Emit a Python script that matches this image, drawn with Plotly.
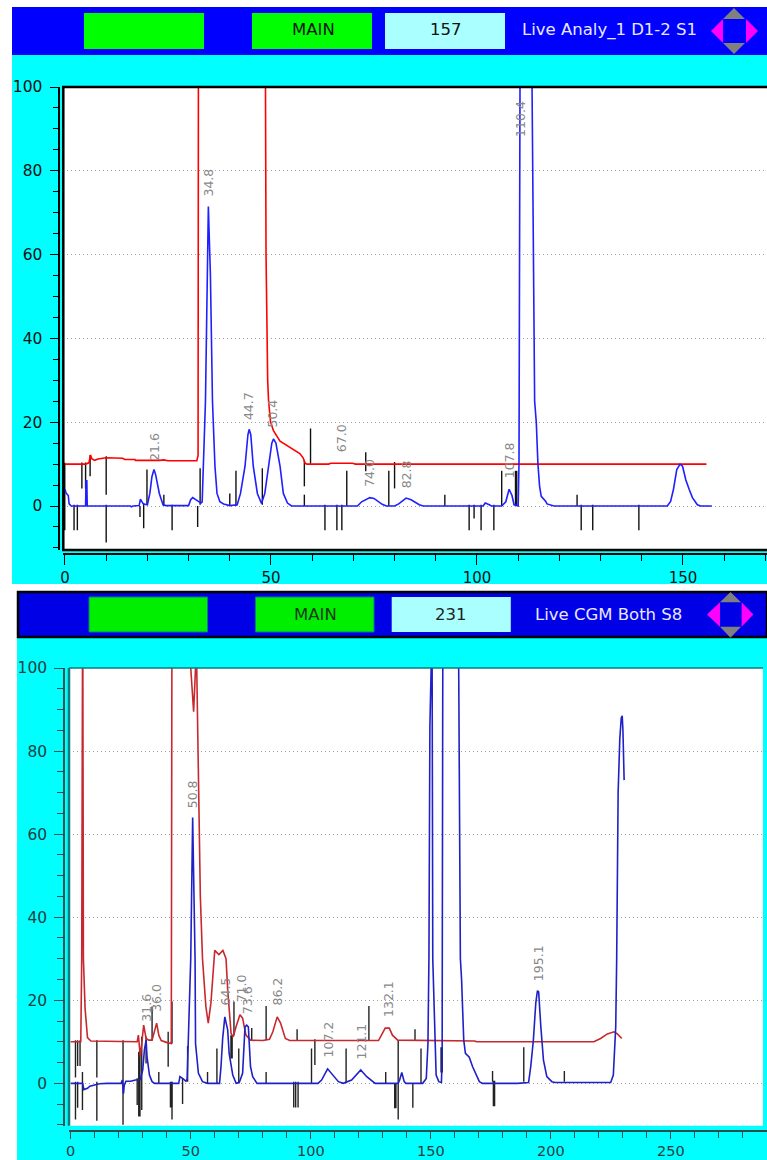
import plotly.graph_objects as go

W, H = 767, 1160

# ---------- upper chart data ----------
top_blue_x = [0,0.3,0.8,1,1.5,5,5.1,5.3,5.4,15.9,16.1,16.5,18,18.3,18.7,19,20,20.6,21.1,21.6,22,22.9,23.8,24.5,30,30.5,31,32,33,33.3,33.6,34.1,34.4,34.8,35.3,35.8,36.4,36.9,37.6,38.5,40,41.8,42.6,43.7,44.4,44.7,45.1,45.7,46.7,47.7,48.5,49.4,50.2,50.6,51.2,52.2,53,54,54.6,55,71,72,74,75,77,78,80,81,82.8,84,86,87,101.5,102,103,103.5,106,107,107.8,108.5,109,110,110.2,110.5,113.2,114,114.4,114.6,114.8,115.2,115.6,116.7,117,118.7,146.2,147,147.7,148.5,149.3,149.9,150.7,151.5,152.3,153.5,154.3,157]
top_blue_y = [4,3,2.5,0.5,0,0,6,6,0,0,-0.2,0,0.1,1.6,1,0.5,0.3,3,7,8.7,7.5,3,0.3,0.1,0.1,1.5,2,1.3,0.7,1,9.5,25,45,71.5,55,25,9.5,3,1,0.5,0.1,0.3,3,9.5,17,18.3,17,9.5,3,0.6,3,9.5,15,16,15,9.5,3,0.7,0.2,0,0,1,2,1.8,0.4,0,0,0.5,1.9,1.5,0.3,0,0,0.7,0.3,0,0,1,4,2.5,0.3,0,10,120,120,25,20,15,10,4.7,2.3,1.1,0.5,0,0,1.1,4,8.7,10,9.5,6.2,4,2,0.3,0,0]
top_red_x = [0,5,5.8,6.2,6.5,7.2,8,10,14,14.5,17,17.1,23,24,25,32,32.3,32.4,48.6,48.8,49.2,49.4,49.9,50.6,52.2,53.8,55.4,57,57.8,58.3,58.7,64,64.5,69.8,70.5,155.7]
top_red_y = [10,10,10.3,12.2,11.3,10.9,11.2,11.5,11.4,11.1,11.1,10.9,10.9,11,10.8,10.8,12,120,120,60,30,25.3,20,18,15.5,14.5,13.5,12.5,11.5,10.2,10,10,10.2,10.2,10,10]
top_bar_x = [2.2,3,4.1,5,6.1,10,10,18.2,19.1,19.9,24,26,32.2,32.8,40,41.5,47.9,58.1,58.1,59.6,63.1,66,67.2,68.4,73,78.6,80,92.2,98.1,99.3,101,104.1,106,124.3,125.3,128.1,139.3]
top_bar_hi = [0.3,0.3,10.4,10.4,12.2,11.9,0.3,0,0.7,8.7,2.7,0.3,0,9,3,8.4,9,11,2.7,18.5,0.3,0.3,0.3,8.4,12.8,8.4,10.5,2.7,0.3,0.3,0.3,0.3,8.4,2.7,0.3,0.3,0.3]
top_bar_lo = [-5.8,-5.8,4.2,4.2,7.1,2.7,-8.7,-2.6,-5.3,0.3,0,-5.8,-5,0.3,0,0,0.3,4.7,0,10.1,-5.8,-5.8,-5.8,0,8.3,0,4.2,0,-5.8,-3,-5.8,-5.8,0,0,-5.8,-5.8,-5.8]
top_thick_x = [-0.2,109.5]
top_thick_hi = [10.3,8.4]
top_thick_lo = [-5.8,0]
top_labels = ["21.6","34.8","44.7","50.4","67.0","74.0","82.8","107.8","110.4"]
top_label_y = [10.5,73.7,20.3,18.4,12.6,4.3,4,6.4,87.8]

# ---------- lower chart data ----------
low_blue_x = [0,5,5.5,7,8,10,12,15,21,21.5,22,22.3,23,25,27,29,30,30.7,31.4,31.8,32.8,33.9,35,45,45.5,47,48,48.5,48.9,49.4,50,50.8,51.3,51.8,52,53.2,54.9,57,62,62.6,63.3,64.2,65.4,66,67.5,68.9,70.2,71.6,72.6,73.3,74,74.9,75.8,77.6,103,104.5,107,108.7,111.5,113.5,117,120.8,123.3,126.8,136.4,137,137.9,138.9,139.6,146.6,148.1,148.8,149.2,149.6,150.2,150.5,150.8,151.2,151.7,152.2,153.3,154.4,154.7,154.8,155,161.5,162.3,162.8,163.2,163.7,164.4,166,167.4,168.8,170.2,171.5,186,190.7,191.6,192.7,193.7,194.4,194.9,195.8,196.9,198.3,200.4,201.8,224.9,226,227,227.4,228,228.7,229.3,229.7,230,230.5]
low_blue_y = [0,0,-1.5,-1.2,-0.7,-0.4,-0.1,0,0,0.8,-2.5,-0.5,0.5,0.5,0.8,0.9,3.2,8,10.4,6.4,2,0.4,0,0,1.6,1,0.5,1,9.6,23,30,64,50,30,9.6,2.4,0.4,0,0,4,10.8,16,12.8,7.2,2,0,0.2,2.4,13.6,14,13.6,4,1.6,0,0,0.8,3.5,2.4,0.4,0,0.8,3.2,1.6,0,0,0.8,2.6,0.4,0,0,1.2,9.6,30,86,110,110,30,21.7,8,2,0.4,0.2,5.6,30,110,110,30,25,16,10.4,7.2,6.3,4,2.4,0.4,0,0,0.2,4,10.4,19.3,22.3,22,13.7,5.6,1.6,0.4,0.2,0.2,2,13.6,30,70,83,88,88.5,85,73]
low_red_x = [0,4.2,4.6,4.8,4.9,5.0,5.3,6,7,8.4,27.7,28.2,29,29.7,30.4,31.4,32.5,33.9,34.9,35.8,36.7,37.7,40.2,41.9,42.2,50,51.2,52,52.5,53,53.5,54,54.9,56.3,57.3,58.4,59.4,60,61.7,63.4,64.7,65.4,66.8,67.7,68.9,70.5,71.6,73,74.9,80,82.8,84.2,86,87.4,89.4,91.2,128.2,131,132.7,134,136.2,168.3,169,217.9,220.7,223.5,226.3,227.7,229.5]
low_red_y = [10,10,30,97,120,120,30,18,11,10.2,10,11.6,6.4,10.4,14,10.8,10.4,10.4,12.4,14.5,11.6,10.3,9.8,9.6,120,100,89.5,100,100,80,60,45,30,18.5,14.5,19.3,27.3,32,31,32,30,22.5,12,11.2,13.7,16.5,15.7,11.6,10.4,10.3,10.6,12.4,16,14.5,10.8,10.3,10.3,13.3,13.3,11.6,10.4,10.2,10,10,10.8,11.9,12.4,11.9,10.8]
low_bar_x = [2,2,2.9,2.9,3.9,4.9,10.9,10.9,21.8,27.7,29.6,31.4,33.9,36.7,40.6,42.2,42.2,46.6,48.7,57,60.9,68,70,75.4,81.4,81.4,92.9,93.7,94.7,94.3,100.3,101.7,114.7,124.2,131.2,136.4,142.5,143.4,145.9,175.7,188.7,205.6]
low_bar_hi = [10.4,0.4,10.4,0.4,10.4,2.7,10.4,0.4,10.4,1.2,11.2,11.2,18.5,2.7,12.4,19.7,0.4,1.2,9,2.7,8.4,19.7,8.4,13.3,18.6,2.7,0.4,0.4,0.4,13,8.4,10.6,8.4,18.6,2.7,10.4,0,13,8.4,3,8.7,3]
low_bar_lo = [1.4,-8.7,4.2,-5.9,4.2,-6.4,1.4,-9,-10,-5.2,-6.4,4.8,10.4,0,4,9.6,-8.7,-5,0.4,0,0,11.6,0,10.4,10.4,0,-5.8,-5.8,-5.8,10.4,0,4.4,0,10.4,0,-8.7,-5.9,10.4,0,0.4,0.4,0.4]
low_thick_x = [28.6,41.8,67,135.2,154.5,176.3]
low_thick_hi = [7.6,0.4,11.6,0,8.7,0.6]
low_thick_lo = [-8,-5.8,6,-6,2.6,-5.5]
low_labels = ["31.6","36.0","50.8","64.5","71.0","73.6","86.2","107.2","121.1","132.1","195.1"]
low_label_y = [14.5,17,65.9,18.4,19.3,16.5,18.4,6,5.6,15.7,24.4]

panel_text = [["MAIN","157","Live Analy_1 D1-2 S1"],["MAIN","231","Live CGM Both S8"]]

def px(v): return v / W
def py(v): return 1 - v / H

shapes, notes = [], []

def rect(x0, y0, x1, y1, fill, line=None, lw=0):
    shapes.append(dict(type="rect", xref="paper", yref="paper", layer="below",
                       x0=px(x0), x1=px(x1), y0=py(y1), y1=py(y0), fillcolor=fill,
                       line=dict(color=line or fill, width=lw)))

def poly(pts, fill):
    path = "M " + " L ".join(f"{px(a):.5f},{py(b):.5f}" for a, b in pts) + " Z"
    shapes.append(dict(type="path", xref="paper", yref="paper", layer="below",
                       path=path, fillcolor=fill, line=dict(width=0)))

def text(x, y, s, color, size=16.5):
    notes.append(dict(x=px(x), y=py(y), xref="paper", yref="paper", text=s, showarrow=False,
                      xanchor="center", yanchor="middle",
                      font=dict(family="DejaVu Sans", size=size, color=color)))

def arrows(cx, top, up, down, bottom, left, ileft, iright, right, half):
    poly([(cx, top), (cx-half, up), (cx+half, up)], "#808080")
    poly([(cx, bottom), (cx-half, down), (cx+half, down)], "#808080")
    cy = (up + down) / 2
    poly([(left, cy), (ileft, up), (ileft, down)], "#ff00ff")
    poly([(right, cy), (iright, up), (iright, down)], "#ff00ff")

# panel 1
rect(12, 7, W, 584, "#00ffff")
rect(12, 7, W, 55, "#0000ff")
rect(84, 13, 204, 49, "#00ff00")
rect(252, 13, 372, 49, "#00ff00")
rect(385, 13, 505, 49, "#aaffff")
text(313, 30, panel_text[0][0], "#111111")
text(446, 30, panel_text[0][1], "#111111")
text(609, 30, panel_text[0][2], "#e8e8ff")
arrows(734, 8, 19, 43, 54, 711, 723, 746, 758, 11)
rect(63.3, 87, W, 550, "#ffffff")

# panel 2
rect(17, 591, W, 1160, "#00ffff")
rect(18, 592, W, 637, "#0000e6", "#000000", 2.5)
rect(89, 597, 207.5, 632, "#00ee00", "#008080", 1)
rect(255.4, 597, 374, 632, "#00ee00", "#008080", 1)
rect(391.7, 597, 510.8, 632, "#aaffff")
text(315, 614, panel_text[1][0], "#1a3a1a")
text(451, 614, panel_text[1][1], "#222222")
text(608, 614, panel_text[1][2], "#e8e8ff")
arrows(730.5, 592, 602.3, 626.7, 637.7, 707, 720, 741.6, 753.4, 10.5)
rect(69, 668, 763, 1125.7, "#ffffff")

def frame(x0, y0, x1, y1, color, lw):
    shapes.append(dict(type="rect", xref="paper", yref="paper", layer="above",
                       x0=px(x0), x1=px(x1), y0=py(y1), y1=py(y0),
                       fillcolor="rgba(0,0,0,0)", line=dict(color=color, width=lw)))

frame(63.3, 87, W + 3, 550, "#000000", 2.5)
# lower frame: dark top/left, pale cyan right/bottom
shapes.append(dict(type="line", xref="paper", yref="paper", layer="above",
                   x0=px(69), x1=px(69), y0=py(668), y1=py(1125.7), line=dict(color="#0a7a7a", width=2.5)))
shapes.append(dict(type="line", xref="paper", yref="paper", layer="above",
                   x0=px(69), x1=px(763), y0=py(668), y1=py(668), line=dict(color="#0a7a7a", width=1.5)))

fig = go.Figure()

def segs(xs, hi, lo):
    ox, oy = [], []
    for a, b, c in zip(xs, hi, lo):
        ox += [a, a, None]
        oy += [b, c, None]
    return ox, oy

def series(xa, ya, bx, bh, bl, tx, th, tl, rx, ry, blx, bly, red, blue, black):
    a, b = segs(bx, bh, bl)
    fig.add_trace(go.Scatter(x=a, y=b, xaxis=xa, yaxis=ya, mode="lines", line=dict(color=black, width=1.4), showlegend=False))
    a, b = segs(tx, th, tl)
    fig.add_trace(go.Scatter(x=a, y=b, xaxis=xa, yaxis=ya, mode="lines", line=dict(color=black, width=2.6), showlegend=False))
    fig.add_trace(go.Scatter(x=rx, y=ry, xaxis=xa, yaxis=ya, mode="lines", line=dict(color=red, width=1.6), showlegend=False))
    fig.add_trace(go.Scatter(x=blx, y=bly, xaxis=xa, yaxis=ya, mode="lines", line=dict(color=blue, width=1.6), showlegend=False))

series("x", "y", top_bar_x, top_bar_hi, top_bar_lo, top_thick_x, top_thick_hi, top_thick_lo,
       top_red_x, top_red_y, top_blue_x, top_blue_y, "#ff0000", "#1f1fff", "#111111")
series("x2", "y2", low_bar_x, low_bar_hi, low_bar_lo, low_thick_x, low_thick_hi, low_thick_lo,
       low_red_x, low_red_y, low_blue_x, low_blue_y, "#c8282d", "#2020c8", "#222222")

def labels(names, ys, xr, yr):
    for s, y in zip(names, ys):
        notes.append(dict(x=float(s), y=y, xref=xr, yref=yr, text=s, textangle=-90, showarrow=False,
                          xanchor="center", yanchor="bottom", borderpad=0,
                          font=dict(family="DejaVu Sans", size=12.5, color="#888888")))

labels(top_labels, top_label_y, "x", "y")
labels(low_labels, low_label_y, "x2", "y2")

def axes(color, xrange, yrange, x0, y0, y1, xpos, ypos, tick, xlen, xsize):
    xa = dict(range=xrange, domain=[px(x0), 1], anchor="free", position=py(xpos), showgrid=False, zeroline=False,
              showline=True, linecolor=color, linewidth=1.5, ticks="outside", ticklen=xlen, tickwidth=1.2, tickcolor=color,
              tick0=0, dtick=50, minor=dict(dtick=10, ticks="outside", ticklen=6, tickwidth=1.2, tickcolor=color, showgrid=False),
              tickfont=dict(family="DejaVu Sans", size=xsize, color=tick), fixedrange=True, automargin=False, ticklabelstandoff=0)
    ya = dict(range=yrange, domain=[py(y1), py(y0)], anchor="free", position=px(ypos), showgrid=True, gridcolor="#a0a0a0", griddash="1px,3px",
              gridwidth=1, zeroline=False, showline=True, linecolor=color, linewidth=1.5, ticks="outside", ticklen=9,
              tickwidth=1.2, tickcolor=color, tick0=0, dtick=20,
              minor=dict(dtick=5, ticks="outside", ticklen=6, tickwidth=1.2, tickcolor=color, showgrid=False),
              tickfont=dict(family="DejaVu Sans", size=15.5, color=tick), fixedrange=True, automargin=False, ticklabelstandoff=4)
    return xa, ya

xa1, ya1 = axes("#000000", [-0.41, 170.4], [-10.5, 100], 63.3, 87, 550, 554, 59.3, "#111111", 10, 15)
xa2, ya2 = axes("#2f4f4f", [-0.7, 290], [-10.2, 100], 69, 668, 1125.7, 1131, 64, "#1f3f3f", 7, 14.5)

fig.update_layout(width=W, height=H, margin=dict(l=0, r=0, t=0, b=0, pad=0), paper_bgcolor="#ffffff",
                  plot_bgcolor="rgba(0,0,0,0)", showlegend=False, xaxis=xa1, yaxis=ya1, xaxis2=xa2, yaxis2=ya2,
                  shapes=shapes, annotations=notes, hovermode=False)
fig.write_html("out.html", config=dict(displayModeBar=False),
               post_script="document.body.style.margin='0';")
